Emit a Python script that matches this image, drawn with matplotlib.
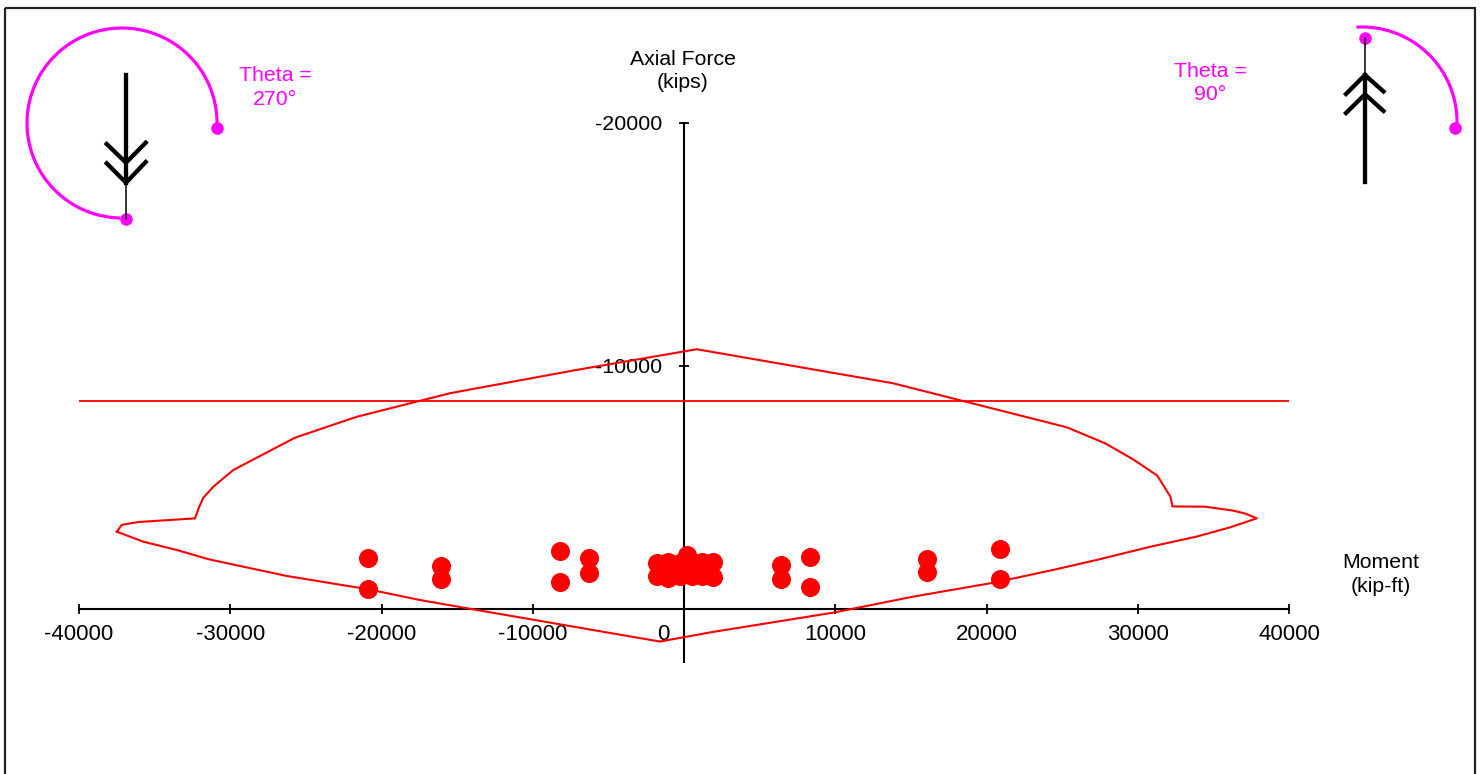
import numpy as np
import matplotlib
matplotlib.use("Agg")
import matplotlib.pyplot as plt
from matplotlib.patches import Rectangle

plt.rcParams['font.family'] = ['Liberation Sans', 'DejaVu Sans']

# Interaction diagram outline (moment kip-ft, axial kips; compression negative)
outline_moment = [-37500, -37180, -36080, -32330, -32050, -31780, -31120, -29800,
                  -25720, -21640, -15470, -7090, 840, 13820, 25300, 27840, 29690,
                  31290, 32150, 32300, 34450, 36300, 37090, 37870, 36100, 33900,
                  30810, 27500, 24420, 20450, 15160, 9870, 1850, -1590, -13050,
                  -17460, -20870, -26270, -31450, -33540, -35750, -37500]
outline_axial = [-3180, -3460, -3580, -3730, -4210, -4580, -5030, -5720,
                 -7050, -7910, -8880, -9840, -10690, -9290, -7480, -6820, -6160,
                 -5490, -4630, -4220, -4210, -4050, -3930, -3730, -3360, -2980,
                 -2560, -2050, -1610, -1080, -510, 150, 950, 1340, 110,
                 -370, -810, -1360, -2050, -2430, -2770, -3180]

# Maximum axial compression limit
axial_limit = -8560

# Load combinations
load_moment = [-20870, -20870, -16070, -16070, -8200, -8200, -6280, -6280,
               6410, 6410, 8300, 8300, 16070, 16070, 20860, 20860,
               -1800, -1800, -1060, -1060, -260, -260, 180, 530, 530,
               1190, 1190, 1920, 1920]
load_axial = [-2090, -810, -1780, -1220, -2400, -1120, -2080, -1470,
              -1830, -1230, -2150, -890, -2070, -1540, -2470, -1220,
              -1910, -1340, -1930, -1280, -1890, -1360, -2220, -1930, -1340,
              -1930, -1340, -1930, -1320]

x_ticks = [-40000, -30000, -20000, -10000, 0, 10000, 20000, 30000, 40000]
x_tick_labels = ['-40000', '-30000', '-20000', '-10000', '', '10000', '20000', '30000', '40000']
y_ticks = [-20000, -10000, 0]
y_tick_labels = ['-20000', '-10000', '']

RED = '#FF0000'
MAGENTA = '#FF00FF'
FS_TICK = 16
FS_YTICK = 15.4
FS_TEXT = 15.3
LS = 1.32

W, H = 1483, 774
fig = plt.figure(figsize=(W / 100, H / 100), dpi=100)

# Pixel-space layer for the frame and the orientation icons
deco = fig.add_axes([0, 0, 1, 1])
deco.set_xlim(0, W)
deco.set_ylim(H, 0)
deco.axis('off')
deco.add_patch(Rectangle((5, 7.5), 1470, 800, fill=False, edgecolor='#222222', lw=1.6))

# Theta = 270 icon
cx, cy, r = 122, 123, 95
phi = np.radians(np.linspace(-3.5, 268, 200))
deco.plot(cx + r * np.cos(phi), cy - r * np.sin(phi), color=MAGENTA, lw=2.3)
deco.plot([216.7, 126], [128.3, 219], 'o', color=MAGENTA, ms=8)
deco.plot([126, 126], [75, 183], color='black', lw=3.1)
deco.plot([126, 126], [183, 219], color='black', lw=1.1)
deco.plot([106.7, 126, 145.7], [144, 162.7, 142.7], color='black', lw=3.1, solid_joinstyle='miter')
deco.plot([106.7, 126, 145.7], [163.3, 182.7, 162], color='black', lw=3.1, solid_joinstyle='miter')
deco.text(275, 87.5, 'Theta =\n270°', color=MAGENTA, fontsize=FS_TEXT, ha='center', va='center',
          linespacing=LS)

# Theta = 90 icon
cx2, cy2 = 1362, 122
phi2 = np.radians(np.linspace(92.4, -3.8, 120))
deco.plot(cx2 + r * np.cos(phi2), cy2 - r * np.sin(phi2), color=MAGENTA, lw=2.3)
deco.plot([1365, 1455], [38.3, 128.3], 'o', color=MAGENTA, ms=8)
deco.plot([1365, 1365], [75, 182], color='black', lw=3.1)
deco.plot([1365, 1365], [38, 75], color='black', lw=1.1)
deco.plot([1346, 1365, 1383.5], [94, 75, 91.5], color='black', lw=3.1, solid_joinstyle='miter')
deco.plot([1346, 1365, 1383.5], [113, 94.3, 111], color='black', lw=3.1, solid_joinstyle='miter')
deco.text(1210, 83, 'Theta =\n90°', color=MAGENTA, fontsize=FS_TEXT, ha='center', va='center',
          linespacing=LS)

# Axis titles
deco.text(683, 71, 'Axial Force\n(kips)', fontsize=FS_TEXT, ha='center', va='center', linespacing=LS)
deco.text(1381, 574.5, 'Moment\n(kip-ft)', fontsize=FS_TEXT, ha='center', va='center', linespacing=LS)

# Main interaction axes
top_px, bot_px = 40, 700
ax = fig.add_axes([79 / W, (H - bot_px) / H, 1210 / W, (bot_px - top_px) / H])
ax.patch.set_alpha(0)
ax.set_xlim(-40000, 40000)
ax.set_ylim((bot_px - 609) * 41.152, (top_px - 609) * 41.152)

ax.plot(outline_moment, outline_axial, color=RED, lw=1.5, zorder=3)
ax.axhline(axial_limit, xmin=0, xmax=1, color=RED, lw=1.3, zorder=3)
ax.plot(load_moment, load_axial, 'o', color=RED, ms=13.7, mew=0, zorder=4)

for side in ('top', 'right'):
    ax.spines[side].set_visible(False)
ax.spines['left'].set_position(('data', 0))
ax.spines['bottom'].set_position(('data', 0))
ax.spines['left'].set_bounds(2200, -20000)
ax.spines['bottom'].set_bounds(-40000, 40000)
for side in ('left', 'bottom'):
    ax.spines[side].set_linewidth(1.5)
    ax.spines[side].set_zorder(2)

ax.set_xticks(x_ticks)
ax.set_xticklabels(x_tick_labels)
ax.set_xticks([-1390], minor=True)
ax.set_xticklabels(['0'], minor=True)
ax.set_yticks(y_ticks)
ax.set_yticklabels(y_tick_labels)
ax.tick_params(axis='both', which='major', direction='inout', length=7, width=1.3,
               labelsize=FS_TICK, colors='black')
ax.tick_params(axis='y', which='major', labelsize=FS_YTICK, pad=12)
ax.tick_params(axis='x', which='major', pad=7.2)
ax.tick_params(axis='x', which='minor', length=0, pad=10.5, labelsize=FS_TICK)

fig.savefig('out.png', dpi=100)
